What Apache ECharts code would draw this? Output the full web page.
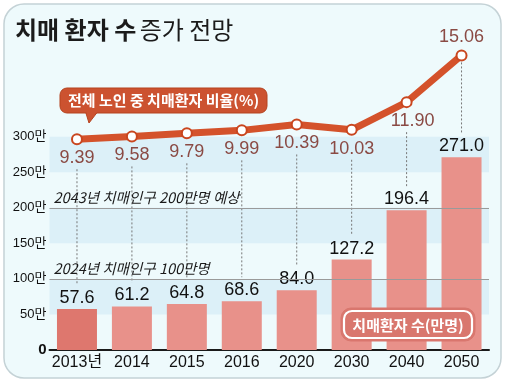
<!DOCTYPE html>
<html><head><meta charset="utf-8">
<script src="https://cdn.jsdelivr.net/npm/echarts@6/dist/echarts.min.js"></script>
<style>html,body{margin:0;padding:0;background:#fff}#c{width:506px;height:383px}</style>
</head><body><div id="c"></div>
<script>
// ---- data ----
const categories = ['2013년','2014','2015','2016','2020','2030','2040','2050'];
const patients = [57.6, 61.2, 64.8, 68.6, 84.0, 127.2, 196.4, 271.0];   // 만명
const ratio = [9.39, 9.58, 9.79, 9.99, 10.39, 10.03, 11.90, 15.06];      // %
const yTicks = [0, 50, 100, 150, 200, 250, 300];
const bandRanges = [[50,100],[150,200],[250,300]];
const refLines = [{value:100, text:'2024년 치매인구 100만명'},{value:200, text:'2043년 치매인구 200만명 예상'}];
const titleBold = '치매 환자 수';
const titleNormal = '증가 전망';
const ratioBadge = '전체 노인 중 치매환자 비율(%)';
const countBadge = '치매환자 수(만명)';

// ---- axes ranges ----
const BAR_MAX = 450;
const LINE_MIN = -4.87, LINE_MAX = 16.78;
const NUM = '"Liberation Sans","Noto Sans CJK KR",sans-serif';
const KR = '"Noto Sans CJK KR","Noto Sans",sans-serif';

const chart = echarts.init(document.getElementById('c'), null, {renderer:'canvas'});
const toBar = v => (v - LINE_MIN) / (LINE_MAX - LINE_MIN) * BAR_MAX;

const option = {
  backgroundColor: '#ffffff',
  animation: false,
  grid: {left: 49.5, right: 17, top: 30, bottom: 33},
  xAxis: {
    type: 'category', data: categories,
    axisLine: {lineStyle: {color: '#1a1a1a', width: 2}},
    axisTick: {show: false},
    axisLabel: {color: '#111', fontSize: 16, fontFamily: NUM, margin: 5, interval: 0}
  },
  yAxis: [{
    type: 'value', min: 0, max: BAR_MAX, interval: 50,
    axisLine: {show: false}, axisTick: {show: false}, splitLine: {show: false},
    axisLabel: {
      color: '#111', fontSize: 13, fontFamily: NUM, margin: 3,
      formatter: v => yTicks.indexOf(v) < 0 ? '' : (v === 0 ? '{z|0}' : v + '만'),
      rich: {z: {fontSize: 15, fontWeight: 'bold', fontFamily: NUM, color: '#111'}}
    }
  }, {
    type: 'value', min: LINE_MIN, max: LINE_MAX, show: false
  }],
  series: [{
    type: 'bar', data: patients.map((v, i) => i === 0 ? {value: v, itemStyle: {color: '#de776e'}} : v),
    barWidth: 40, z: 3,
    itemStyle: {color: '#e8918a'},
    label: {show: true, position: 'top', distance: 2, color: '#111', fontSize: 18, fontFamily: NUM,
      formatter: p => p.value.toFixed(1)},
    markArea: {silent: true, itemStyle: {color: '#dcf0f8'},
      data: bandRanges.map(r => [{yAxis: r[0]}, {yAxis: r[1]}])},
    markLine: {silent: true, symbol: 'none',
      lineStyle: {color: '#9a9a9a', width: 1, type: 'solid'},
      label: {position: 'insideStartTop', distance: [4, 3], color: '#1a1a1a', fontSize: 14.5,
        fontStyle: 'italic', fontFamily: KR, formatter: p => p.data.text},
      data: refLines.map(r => ({yAxis: r.value, text: r.text}))}
  }, {
    type: 'custom', z: 2, silent: true,
    data: ratio.map((v, i) => [i, v, patients[i]]),
    renderItem: (params, api) => {
      const i = api.value(0);
      const p = api.coord([i, toBar(api.value(1))]);
      const b = api.coord([i, api.value(2)]);
      const y1 = p[1] + (i === ratio.length - 1 ? 7 : 30);
      const y2 = b[1] - 24;
      return {type: 'line', shape: {x1: p[0], y1: y1, x2: p[0], y2: y2},
        style: {stroke: '#777', lineWidth: 1, lineDash: [2, 2]}};
    }
  }, {
    type: 'line', yAxisIndex: 1, z: 5,
    data: ratio.map((v, i) => {
      if (i === ratio.length - 1) return {value: v, label: {position: 'top', distance: 3}};
      if (i === ratio.length - 2) return {value: v, label: {offset: [6, 0]}};
      return v;
    }),
    lineStyle: {color: '#d4522b', width: 7},
    symbol: 'circle', symbolSize: 10,
    itemStyle: {color: '#ffffff', borderColor: '#c9461f', borderWidth: 2},
    label: {show: true, position: 'bottom', distance: 4, color: '#8a4a44', fontSize: 18, fontFamily: NUM,
      formatter: p => p.value.toFixed(2)}
  }],
  graphic: [
    {type: 'rect', z: -10, shape: {x: 4, y: 4, width: 497, height: 374, r: 20},
      style: {fill: '#eefafc', stroke: '#c4d2d6', lineWidth: 1.5}},
    {type: 'text', z: 100, left: 15, top: 18,
      style: {text: '{b|' + titleBold + '} {n|' + titleNormal + '}',
        rich: {b: {fontSize: 24, fontWeight: 'bold', fontFamily: KR, fill: '#1b1b1b'},
               n: {fontSize: 24, fontWeight: 'normal', fontFamily: KR, fill: '#1b1b1b'}}}},
    {type: 'polygon', z: 100, shape: {points: [[85, 110], [99, 110], [89, 123]]},
      style: {fill: '#cc5230', stroke: '#b5431f', lineWidth: 1}},
    {type: 'rect', z: 101, shape: {x: 60, y: 88, width: 207, height: 25, r: 7},
      style: {fill: '#cc5230', stroke: '#b5431f', lineWidth: 1}},
    {type: 'polygon', z: 102, shape: {points: [[86, 111], [98, 111], [89, 121]]},
      style: {fill: '#cc5230'}},
    {type: 'text', z: 103, style: {text: ratioBadge, x: 163.5, y: 100.5, align: 'center', verticalAlign: 'middle',
      fill: '#ffffff', fontSize: 15, fontWeight: 'bold', fontFamily: KR}},
    {type: 'rect', z: 100, shape: {x: 341, y: 308, width: 134, height: 33, r: 10},
      style: {fill: '#d9776e', stroke: '#d9776e', lineWidth: 1}},
    {type: 'rect', z: 101, shape: {x: 344, y: 311, width: 128, height: 27, r: 8},
      style: {fill: '#d9776e', stroke: '#ffffff', lineWidth: 2.2}},
    {type: 'text', z: 102, style: {text: countBadge, x: 408, y: 325, align: 'center', verticalAlign: 'middle',
      fill: '#ffffff', fontSize: 15, fontWeight: 'bold', fontFamily: KR}}
  ]
};
chart.setOption(option);
</script></body></html>
